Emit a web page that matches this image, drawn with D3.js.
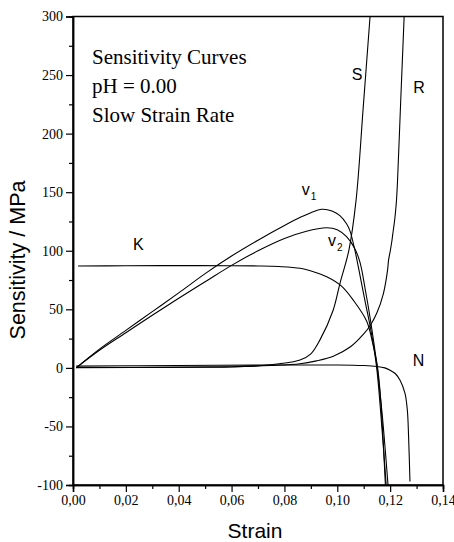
<!DOCTYPE html>
<html>
<head>
<meta charset="utf-8">
<script src="https://cdn.jsdelivr.net/npm/d3@7"></script>
<style>
  html, body { margin: 0; padding: 0; background: #fff; }
  svg { display: block; }
</style>
</head>
<body>
<svg id="chart" width="454" height="542"></svg>
<script>
// ---- data (strain, MPa) ----
const xTicks = [0, 0.02, 0.04, 0.06, 0.08, 0.10, 0.12, 0.14];
const yTicks = [-100, -50, 0, 50, 100, 150, 200, 250, 300];

const curveV1 = [[0.0012,0],[0.01,16],[0.02,32],[0.03,48],[0.04,64],[0.05,80.5],[0.06,95.5],[0.07,109],[0.08,121.5],[0.086,128.5],[0.09,132.5],[0.094,135.4],[0.098,134],[0.101,130],[0.1035,123],[0.1048,117],[0.1067,100],[0.1085,80],[0.1105,57],[0.1124,36],[0.1148,2],[0.1165,-40],[0.1185,-100]];
const curveV2 = [[0.0012,0],[0.01,15],[0.02,30],[0.03,45],[0.04,59.5],[0.05,73.5],[0.06,87.5],[0.07,100],[0.08,110.5],[0.088,116.5],[0.096,119.6],[0.1,118],[0.1035,112],[0.1066,102],[0.1086,90],[0.1105,68],[0.1124,43],[0.115,2],[0.117,-40],[0.1192,-100]];
const curveK  = [[0.0019,87],[0.02,87.2],[0.04,87.3],[0.06,87.2],[0.07,87],[0.078,86.5],[0.0859,85],[0.091,82],[0.096,77.8],[0.1015,70],[0.106,58],[0.1111,40],[0.1135,20],[0.1152,1],[0.1165,-30],[0.1182,-100]];
const curveS  = [[0.0012,0.3],[0.03,0.4],[0.05,0.6],[0.06,0.8],[0.07,1.8],[0.078,3.5],[0.0859,6.7],[0.09,12],[0.0934,23.7],[0.0984,49],[0.101,72],[0.1044,100.6],[0.1071,143],[0.1098,222],[0.1124,300]];
const curveR  = [[0.0012,0.2],[0.04,0.5],[0.06,1],[0.075,2],[0.0859,3.5],[0.0921,6],[0.0985,10],[0.105,18],[0.11,29],[0.1124,36],[0.115,47],[0.1174,63],[0.119,83],[0.1194,92],[0.1201,100.6],[0.1207,109],[0.1212,117.7],[0.1217,126],[0.1221,135],[0.1224,143],[0.1228,160],[0.124,228],[0.1253,300]];
const curveN  = [[0.0012,1.5],[0.04,2],[0.08,2.5],[0.1,2.5],[0.11,2],[0.115,1.2],[0.118,0],[0.12,-2],[0.122,-5],[0.1237,-10.4],[0.1256,-21.5],[0.1265,-36],[0.127,-60],[0.1275,-97]];

const seriesList = [curveV1, curveV2, curveK, curveS, curveR, curveN];

const curveLabels = [
  {t:"S", x:0.1055, y:245.7},
  {t:"R", x:0.1287, y:235},
  {t:"K", x:0.0227, y:101},
  {t:"N", x:0.1286, y:1.5},
  {t:"v", sub:"1", x:0.0866, y:147.4},
  {t:"v", sub:"2", x:0.0965, y:104}
];
const noteLines = ["Sensitivity Curves", "pH = 0.00", "Slow Strain Rate"];

// ---- layout ----
const L = 73, R = 443, T = 16.5, B = 485;
const svg = d3.select("#chart");
const x = d3.scaleLinear().domain([0, 0.14]).range([L, R]);
const y = d3.scaleLinear().domain([-100, 300]).range([B, T]);

const serif = "'Liberation Serif','Times New Roman',Times,serif";
const sans = "'Liberation Sans',Arial,Helvetica,sans-serif";

svg.append("defs").append("clipPath").attr("id","clip")
  .append("rect").attr("x",L).attr("y",T).attr("width",R-L).attr("height",B-T);

// curves
const line = d3.line().x(d=>x(d[0])).y(d=>y(d[1])).curve(d3.curveCatmullRom.alpha(0.5));
svg.append("g").attr("clip-path","url(#clip)")
  .selectAll("path").data(seriesList).join("path")
  .attr("d", line).attr("fill","none").attr("stroke","#000").attr("stroke-width",1.1);

// frame
svg.append("rect").attr("x",L).attr("y",T).attr("width",R-L).attr("height",B-T)
  .attr("fill","none").attr("stroke","#000").attr("stroke-width",1.5);

// axes
const fmtX = d => d3.format(".2f")(d).replace(".", ",");
const fmtY = d => String(d);
const xAxis = svg.append("g").attr("transform",`translate(0,${B})`)
  .call(d3.axisBottom(x).tickValues(xTicks).tickFormat(fmtX).tickSize(7).tickPadding(3));
const xMinor = svg.append("g").attr("transform",`translate(0,${B})`)
  .call(d3.axisBottom(x).tickValues(d3.range(0.01,0.14,0.02)).tickFormat("").tickSize(4));
const yAxis = svg.append("g").attr("transform",`translate(${L},0)`)
  .call(d3.axisLeft(y).tickValues(yTicks).tickFormat(fmtY).tickSize(7).tickPadding(3));
const yMinor = svg.append("g").attr("transform",`translate(${L},0)`)
  .call(d3.axisLeft(y).tickValues(d3.range(-75,300,50)).tickFormat("").tickSize(4));

[xAxis,xMinor,yAxis,yMinor].forEach(g=>{
  g.attr("font-family", serif).attr("font-size", 14);
  g.select(".domain").attr("stroke","#000").attr("stroke-width",1.5);
  g.selectAll(".tick line").attr("stroke","#000").attr("stroke-width",1.2);
  g.selectAll("text").attr("fill","#000").attr("font-family",serif).style("font-family",serif).style("font-size","14px");
});

// axis titles
svg.append("text").attr("x",(L+R)/2 - 3).attr("y",538).attr("text-anchor","middle")
  .style("font-family",sans).style("font-size","21px").text("Strain");
svg.append("text").attr("transform",`translate(25,260) rotate(-90)`).attr("text-anchor","middle")
  .style("font-family",sans).style("font-size","21.5px").text("Sensitivity / MPa");

// note
svg.append("g").selectAll("text").data(noteLines).join("text")
  .attr("x",92).attr("y",(d,i)=>64+i*29)
  .style("font-family",serif).style("font-size","21px").text(d=>d);

// curve labels
const lab = svg.append("g").selectAll("text").data(curveLabels).join("text")
  .attr("x",d=>x(d.x)).attr("y",d=>y(d.y))
  .style("font-family",sans).style("font-size","16px");
lab.append("tspan").text(d=>d.t);
lab.filter(d=>d.sub).append("tspan").attr("dy",5).attr("dx",1).style("font-size","10px").text(d=>d.sub);
</script>
</body>
</html>
